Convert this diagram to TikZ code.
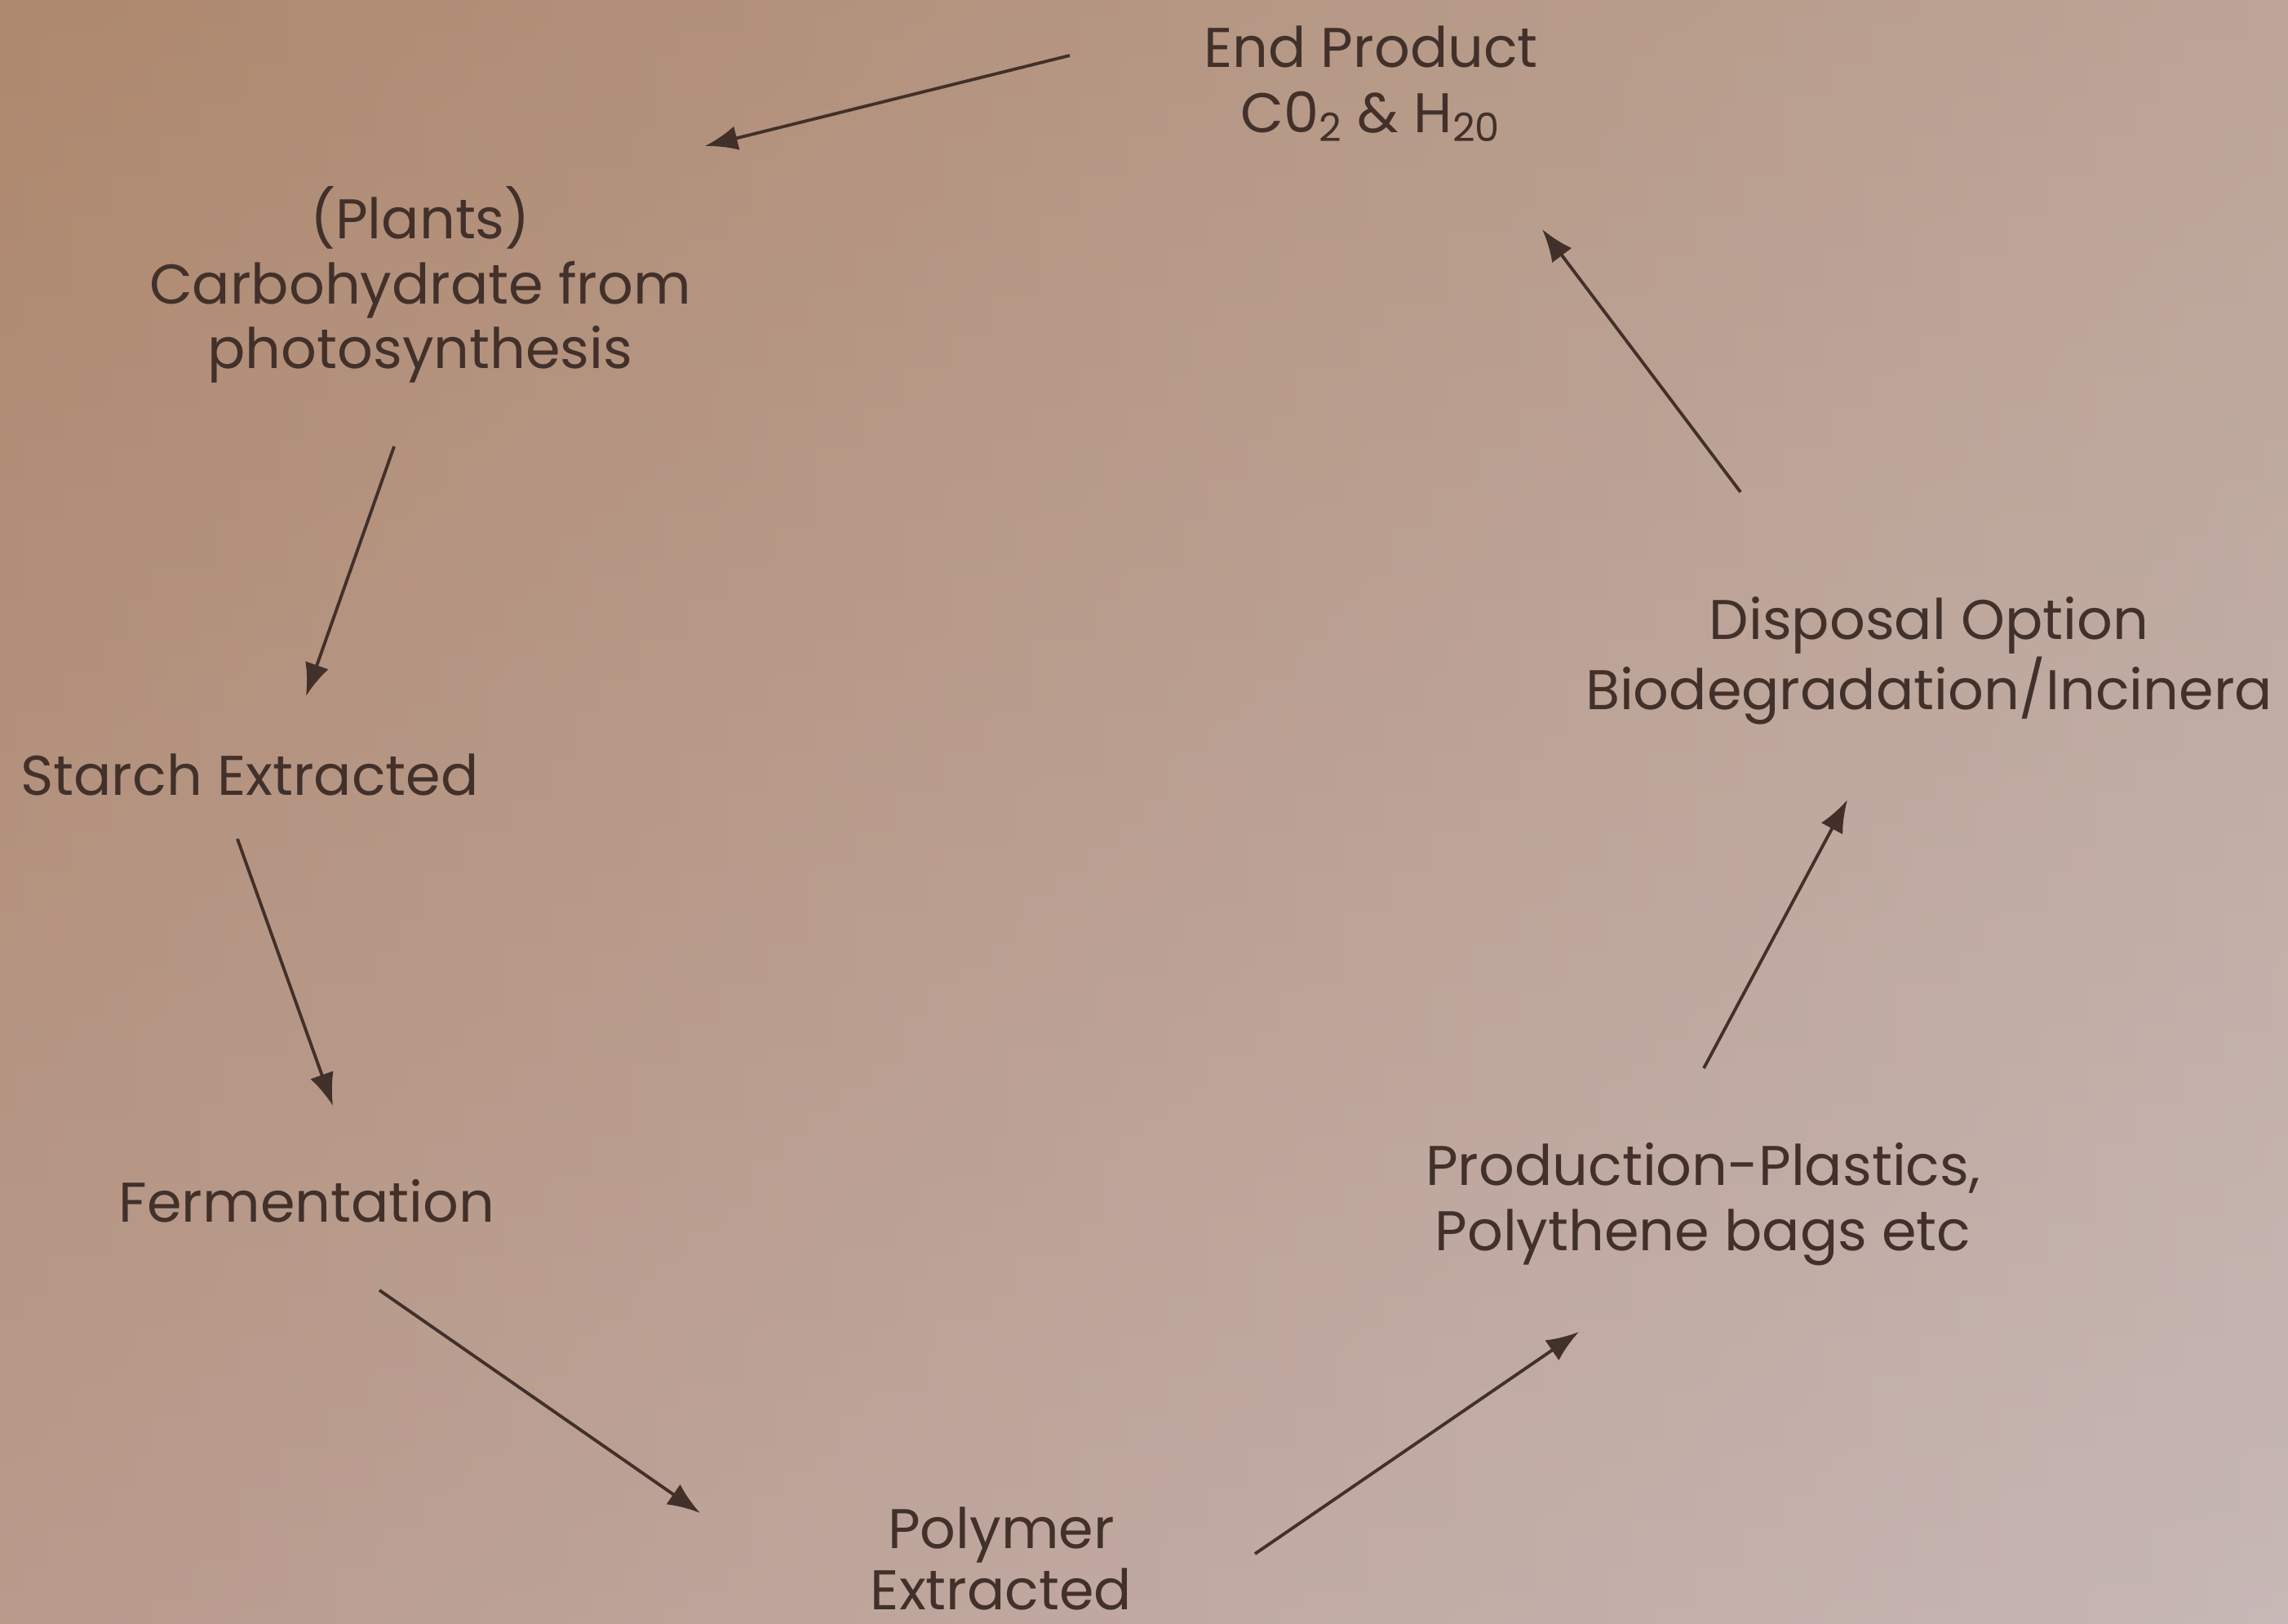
\documentclass[tikz,border=0pt]{standalone}
\usepackage{fontspec}
\setmainfont{Poppins}
\usepackage{tikz}
\usetikzlibrary{arrows.meta,positioning,calc}
\definecolor{inkbrown}{RGB}{66,48,42}
\definecolor{bgleft}{RGB}{176,138,112}
\definecolor{bgright}{RGB}{202,190,187}
\definecolor{bgtop}{RGB}{172,134,108}
\definecolor{bgbottom}{RGB}{196,176,176}

\begin{document}
\begin{tikzpicture}[
    stage/.style={inner sep=0pt, align=center, text=inkbrown,
        font=\fontsize{19.5}{22.7}\selectfont},
    line/.style={draw=inkbrown, line width=1.1pt,
        -{Latex[length=0.4cm,width=0.3cm]}}]

    % ====== Background (photo tone) ======
    \shade [left color=bgleft, right color=bgright] (0,0) rectangle (28.04,19.90);
    \shade [top color=bgtop, bottom color=bgbottom, opacity=0.45] (0,0) rectangle (28.04,19.90);
    \useasboundingbox (0,0) rectangle (28.04,19.90);

    % ====== Stages of the cycle ======
    \node [stage] (endp)    at (16.80,18.87) {End Product\\C0\textsubscript{2} \& H\textsubscript{20}};
    \node [stage] (plants)  at (5.15,16.41)  {(Plants)\\Carbohydrate from\\photosynthesis};
    \node [stage] (starch)  at (3.06,10.41)  {Starch Extracted};
    \node [stage] (ferment) at (3.76,5.18)   {Fermentation};
    \node [stage, font=\fontsize{19.5}{21.5}\selectfont]
                  (polymer) at (12.27,0.80)  {Polymer\\Extracted};
    \node [stage] (product) at (20.87,5.14)  {Production-Plastics,\\Polythene bags etc};
    \node [stage] (dispose) at (23.64,11.80) {Disposal Option\\Biodegradation/Incinera};

    % ====== Lines ======
    \path [line] ($(endp)+(-3.69,0.35)$)    -- ($(plants)+(3.49,1.70)$);
    \path [line] ($(plants)+(-0.32,-1.98)$) -- ($(starch)+(0.69,0.96)$);
    \path [line] ($(starch)+(-0.15,-0.79)$) -- ($(ferment)+(0.32,1.17)$);
    \path [line] ($(ferment)+(0.89,-1.09)$) -- ($(polymer)+(-3.69,0.56)$);
    \path [line] ($(polymer)+(3.11,0.06)$)  -- ($(product)+(-1.52,-1.56)$);
    \path [line] ($(product)+(0.01,1.67)$)  -- ($(dispose)+(-1.00,-1.70)$);
    \path [line] ($(dispose)+(-2.31,2.07)$) -- ($(endp)+(2.10,-1.78)$);
\end{tikzpicture}
\end{document}
